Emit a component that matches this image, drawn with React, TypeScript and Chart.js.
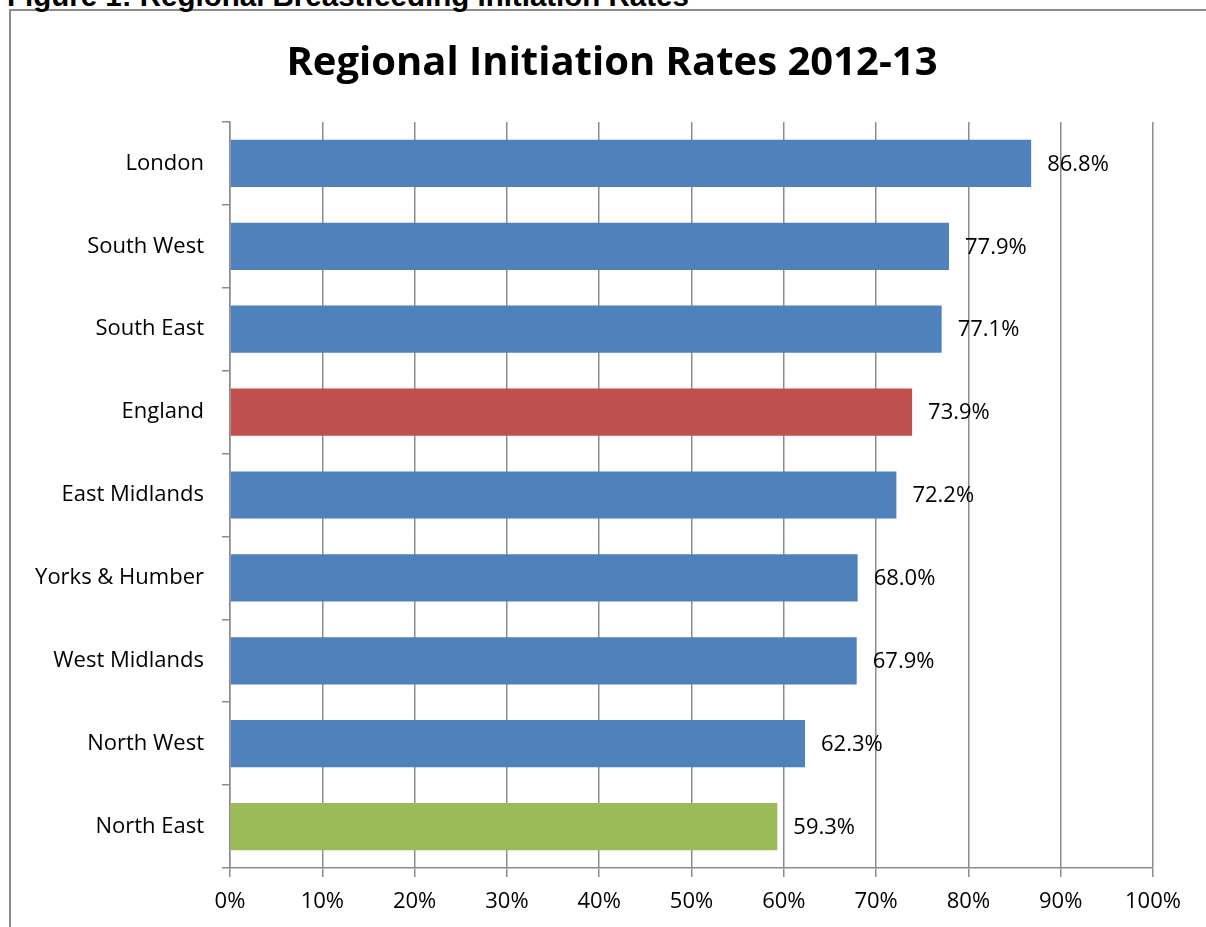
import React, { useEffect, useRef } from "react";
import { Chart, registerables } from "chart.js";

Chart.register(...registerables);

const categories = [
  "London",
  "South West",
  "South East",
  "England",
  "East Midlands",
  "Yorks & Humber",
  "West Midlands",
  "North West",
  "North East",
];
const rates = [86.8, 77.9, 77.1, 73.9, 72.2, 68.0, 67.9, 62.3, 59.3];
const barColors = [
  "#4F81BD",
  "#4F81BD",
  "#4F81BD",
  "#C0504D",
  "#4F81BD",
  "#4F81BD",
  "#4F81BD",
  "#4F81BD",
  "#9BBB59",
];
const xTicks = [0, 10, 20, 30, 40, 50, 60, 70, 80, 90, 100];
const chartTitle = "Regional Initiation Rates 2012-13";
const figureCaption = "Figure 1: Regional Breastfeeding Initiation Rates";

const FONT = "'Open Sans', 'Noto Sans', sans-serif";
const GRID = "#8c8c8c";

const valueLabels = {
  id: "valueLabels",
  afterDatasetsDraw(chart: any) {
    const ctx = chart.ctx;
    const meta = chart.getDatasetMeta(0);
    ctx.save();
    ctx.font = `22px ${FONT}`;
    ctx.fillStyle = "#000";
    ctx.textAlign = "left";
    ctx.textBaseline = "middle";
    meta.data.forEach((bar: any, i: number) => {
      const v = chart.data.datasets[0].data[i] as number;
      ctx.fillText(v.toFixed(1) + "%", bar.x + 16, bar.y + 1);
    });
    ctx.restore();
  },
};

const centeredTitle = {
  id: "centeredTitle",
  afterDraw(chart: any) {
    const ctx = chart.ctx;
    ctx.save();
    ctx.font = `bold 40px ${FONT}`;
    ctx.fillStyle = "#000";
    ctx.textAlign = "center";
    ctx.textBaseline = "alphabetic";
    ctx.fillText(chartTitle, chart.width / 2 + 9, 75);
    ctx.restore();
  },
};

export default function App() {
  const ref = useRef<HTMLCanvasElement | null>(null);

  useEffect(() => {
    if (!ref.current) return;
    const chart = new Chart(ref.current, {
      type: "bar",
      data: {
        labels: categories,
        datasets: [
          {
            data: rates,
            backgroundColor: barColors,
            borderWidth: 0,
            barPercentage: 0.57,
            categoryPercentage: 1,
          },
        ],
      },
      plugins: [valueLabels, centeredTitle],
      options: {
        indexAxis: "y",
        animation: false,
        responsive: false,
        devicePixelRatio: 1,
        layout: { padding: { left: 0, right: 53, top: 122, bottom: 0 } },
        plugins: {
          legend: { display: false },
          tooltip: { enabled: false },
          title: { display: false },
        },
        scales: {
          x: {
            type: "linear",
            min: 0,
            max: 100,
            afterBuildTicks: (s: any) => {
              s.ticks = xTicks.map((v) => ({ value: v }));
            },
            afterFit: (s: any) => {
              s.height = 59;
            },
            ticks: {
              color: "#000",
              font: { family: FONT, size: 22 },
              padding: 12,
              maxRotation: 0,
              callback: (v: any) => v + "%",
            },
            grid: {
              color: GRID,
              lineWidth: 1.5,
              tickLength: 9,
              drawTicks: true,
            },
            border: { display: true, color: GRID, width: 1.5 },
          },
          y: {
            type: "category",
            afterFit: (s: any) => {
              s.width = 230;
            },
            ticks: {
              color: "#000",
              font: { family: FONT, size: 22 },
              padding: 18,
            },
            grid: {
              drawOnChartArea: false,
              drawTicks: true,
              tickLength: 8,
              offset: true,
              color: GRID,
              lineWidth: 1.5,
            },
            border: { display: true, color: GRID, width: 1.5 },
          },
        },
      },
    } as any);
    return () => chart.destroy();
  }, []);

  return (
    <div
      style={{
        position: "fixed",
        left: 0,
        top: 0,
        width: 1206,
        height: 927,
        background: "#fff",
        overflow: "hidden",
      }}
    >
      <div
        style={{
          position: "absolute",
          left: 9,
          top: 9,
          right: -10,
          bottom: -10,
          borderLeft: `2px solid ${GRID}`,
          borderTop: `2px solid ${GRID}`,
        }}
      />
      <div
        style={{
          position: "absolute",
          left: 7,
          top: -19,
          fontFamily: "'Liberation Sans', Arial, sans-serif",
          fontWeight: "bold",
          fontSize: 29.5,
          lineHeight: "30px",
          whiteSpace: "nowrap",
          color: "#000",
        }}
      >
        {figureCaption}
      </div>
      <canvas
        ref={ref}
        width={1206}
        height={927}
        style={{ position: "absolute", left: 0, top: 0, width: 1206, height: 927 }}
      />
    </div>
  );
}
